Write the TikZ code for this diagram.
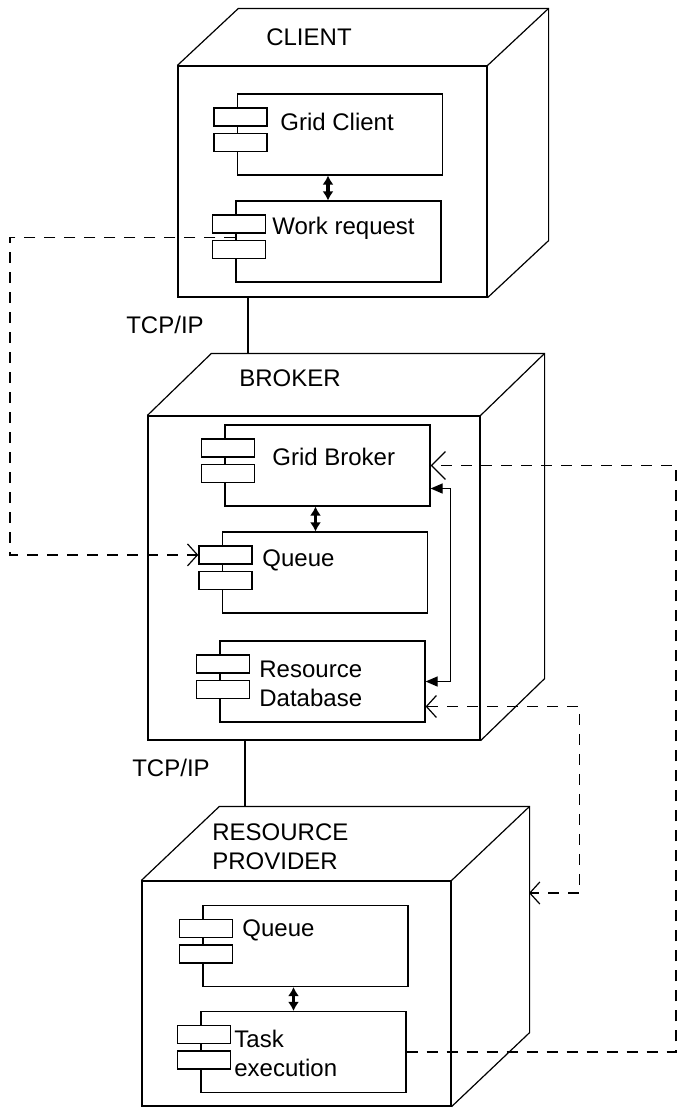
\documentclass[tikz,border=0pt]{standalone}
\usepackage{fontspec}
\setmainfont{Liberation Sans}
\usetikzlibrary{arrows.meta,calc}

\begin{document}
\begin{tikzpicture}[
    x=0.5pt, y=-0.5pt,
    every node/.style={font=\fontsize{12}{14.5}\selectfont, inner sep=0pt},
    edge/.style={draw=black, line width=0.6pt},
    cube/.style={edge, rectangle, minimum width=154.5pt, minimum height=115.5pt},
    comp/.style={edge, rectangle, minimum width=102.5pt, minimum height=40.5pt},
    tab/.style={edge, fill=white, rectangle, minimum width=26.5pt, minimum height=9pt},
    lbl/.style={anchor=west, align=left},
    dbl/.style={line width=1.6pt, {Latex[length=4.5pt,width=5.5pt]}-{Latex[length=4.5pt,width=5.5pt]}},
    link/.style={edge, {Triangle[length=6pt,width=5pt]}-{Triangle[length=6pt,width=5pt]}},
    dep/.style={edge, dash pattern=on 5.5pt off 4.5pt},
    barb/.style={-{Straight Barb[length=5pt,width=11pt]}},
]
    \useasboundingbox (0,0) rectangle (679,1110);

    % nodes
    \node[cube] (client) at (332.5,181.5) {};
    \node[cube, minimum width=166pt, minimum height=162pt] (broker) at (314,578) {};
    \node[cube, minimum height=112.5pt] (rp) at (296.5,993.5) {};
    \foreach \n/\dx/\dy in {client/61/-57, broker/64/-62, rp/78/-74}{
        \draw[edge] (\n.north west) -- ++(\dx,\dy) -| ($(\n.south east)+(\dx,\dy)$) -- (\n.south east);
        \draw[edge] (\n.north east) -- ++(\dx,\dy);
    }
    \node (clientlbl) at (309,37) {CLIENT};
    \node (brokerlbl) at (290,378) {BROKER};
    \node[lbl] (rplbl) at (212,847) {RESOURCE\\PROVIDER};

    % components
    \node[comp] (gc) at (340,134.5) {};
    \node[comp] (wr) at (338.5,241.5) {};
    \node[comp] (gb) at (327.5,465.5) {};
    \node[comp] (bq) at (325,572.5) {};
    \node[comp] (rd) at (322.5,681.5) {};
    \node[comp] (rq) at (305.5,946) {};
    \node[comp] (te) at (303.5,1052) {};
    \foreach \c in {gc,wr,gb,bq,rd,rq,te}{
        \node[tab] (\c t1) at ([shift={(3.5,23.5)}]\c.north west) {};
        \node[tab] (\c t2) at ([shift={(3.5,49)}]\c.north west) {};
    }
    \node[lbl] (gclbl) at (280,122) {Grid Client};
    \node[lbl] (wrlbl) at (272,228) {Work request};
    \node[lbl] (gblbl) at (272,457) {Grid Broker};
    \node[lbl] (bqlbl) at (262,560) {Queue};
    \node[lbl] (rdlbl) at (259,683.5) {Resource\\Database};
    \node[lbl] (rqlbl) at (242,930) {Queue};
    \node[lbl] (telbl) at (234,1053) {Task\\execution};

    \draw[dbl] ([xshift=-6pt]gc.south) -- ([xshift=-6pt]gc.south |- wr.north);
    \draw[dbl] ([xshift=-6pt]gb.south) -- ([xshift=-6pt]gb.south |- bq.north);
    \draw[dbl] ([xshift=-6pt]rq.south) -- ([xshift=-6pt]rq.south |- te.north);

    % links
    \coordinate (btop) at (248,354);
    \coordinate (rtop) at (245,807);
    \draw[edge] (btop |- client.south) -- (btop);
    \draw[edge] (rtop |- broker.south) -- (rtop);
    \node (tcp1) at (165,325) {TCP/IP};
    \node (tcp2) at (171,768) {TCP/IP};

    \draw[link] ([yshift=-11.5pt]gb.east) -- ++(20,0) |- (rd.east);

    \coordinate (lft) at (10,0);
    \coordinate (rgt) at (676,0);
    \coordinate (rpin) at (529,893);
    \coordinate (wrout) at ([yshift=2pt]wr.west);
    \draw[dep, barb] (wrout) -- (lft |- wrout) |- (bqt1.west);
    \draw[dep, -{Straight Barb[length=7pt,width=14pt]}] (te.east) -- (rgt |- te.east) |- (gb.east);
    \draw[dep, {Straight Barb[length=5pt,width=11pt]}-{Straight Barb[length=5pt,width=11pt]}] ([yshift=-12.5pt]rd.east) -- ++(154,0) |- (rpin);
\end{tikzpicture}
\end{document}
